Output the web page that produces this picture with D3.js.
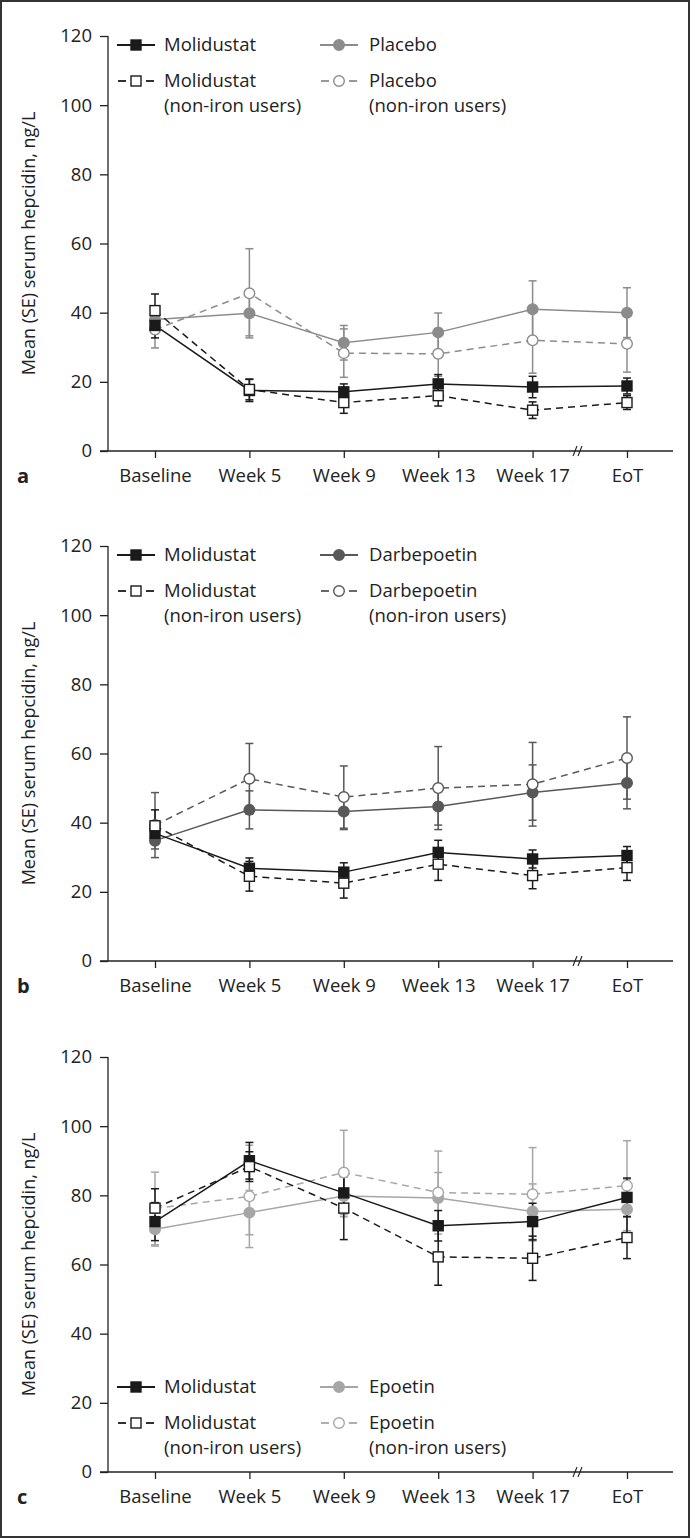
<!doctype html>
<html lang="en">
  <head>
    <meta charset="utf-8">
    <title>Serum hepcidin by visit</title>
    <style>
      * { margin: 0; padding: 0; }
      body { background: #fff; width: 691px; height: 1539px; overflow: hidden; }
      svg text { font-family: "Open Sans", sans-serif; fill: #222; }
    </style>
    <script src="https://cdn.jsdelivr.net/npm/d3@7"></script>
  </head>
  <body>
    <svg id="chart" width="691" height="1539"></svg>

    <script>
      // visits on the x axis
      const categories = ["Baseline", "Week 5", "Week 9", "Week 13", "Week 17", "EoT"];
      const yTicks = [0, 20, 40, 60, 80, 100, 120];

      // panel a : molidustat vs placebo
      const molA      = [36.3, 17.5, 17.1, 19.4, 18.5, 18.8];
      const molA_se   = [3.6, 3.2, 2.3, 2.7, 3.1, 2.3];
      const molNiA    = [40.6, 17.8, 14.0, 16.0, 11.8, 14.0];
      const molNiA_se = [4.8, 3.0, 3.1, 3.0, 2.4, 2.0];
      const placA     = [38.0, 39.8, 31.3, 34.3, 41.0, 40.0];
      const placA_se  = [4.0, 6.5, 5.0, 5.6, 8.2, 7.2];
      const placNiA   = [35.1, 45.6, 28.3, 28.1, 32.0, 31.0];
      const placNiA_se = [5.3, 12.9, 7.0, 6.5, 9.5, 8.2];

      // panel b : molidustat vs darbepoetin
      const molB      = [36.9, 26.8, 25.7, 31.4, 29.5, 30.5];
      const molB_se   = [3.0, 3.0, 2.7, 3.5, 2.6, 2.6];
      const molNiB    = [39.1, 24.5, 22.5, 28.0, 24.7, 27.0];
      const molNiB_se = [4.6, 4.3, 4.3, 4.7, 3.8, 3.7];
      const darbB     = [34.8, 43.7, 43.2, 44.7, 48.7, 51.5];
      const darbB_se  = [2.4, 5.5, 5.2, 5.4, 8.0, 7.5];
      const darbNiB   = [39.3, 52.7, 47.4, 50.0, 51.1, 58.7];
      const darbNiB_se = [9.4, 10.2, 9.0, 12.0, 12.1, 11.9];

      // panel c : molidustat vs epoetin
      const molC      = [72.4, 90.0, 80.7, 71.2, 72.4, 79.4];
      const molC_se   = [5.5, 5.3, 5.0, 4.4, 5.3, 5.6];
      const molNiC    = [76.3, 88.3, 76.3, 62.2, 61.8, 67.8];
      const molNiC_se = [5.6, 4.3, 9.1, 8.2, 6.4, 6.1];
      const epoC      = [70.2, 75.0, 79.8, 79.2, 75.3, 76.0];
      const epoC_se   = [4.9, 6.4, 6.0, 7.4, 8.0, 8.6];
      const epoNiC    = [76.2, 79.7, 86.6, 80.8, 80.3, 82.8];
      const epoNiC_se = [10.5, 14.8, 12.2, 12.0, 13.5, 13.0];

      const BLACK = "#1a1a1a";
      const FS = 18.5;

      const panels = [
        { letter: "a", top: 36, comp: "Placebo", color: "#8c8c8c", legendTop: true,
          series: [[placA, placA_se], [placNiA, placNiA_se], [molA, molA_se], [molNiA, molNiA_se]] },
        { letter: "b", top: 546, comp: "Darbepoetin", color: "#585858", legendTop: true,
          series: [[darbB, darbB_se], [darbNiB, darbNiB_se], [molB, molB_se], [molNiB, molNiB_se]] },
        { letter: "c", top: 1057, comp: "Epoetin", color: "#a6a6a6", legendTop: false,
          series: [[epoC, epoC_se], [epoNiC, epoNiC_se], [molC, molC_se], [molNiC, molNiC_se]] }
      ];

      const svg = d3.select("#chart");

      // figure frame
      svg.append("rect")
        .attr("x", 1).attr("y", 1).attr("width", 688).attr("height", 1536)
        .attr("fill", "none").attr("stroke", "#333").attr("stroke-width", 2);

      const x = d3.scalePoint().domain(categories).range([155, 627]);

      function marker(g, kind, cx, cy, color) {
        if (kind === "square") {
          g.append("rect")
            .attr("x", cx - 5).attr("y", cy - 5).attr("width", 10).attr("height", 10)
            .attr("fill", color).attr("stroke", BLACK).attr("stroke-width", 1.4);
        } else {
          g.append("circle")
            .attr("cx", cx).attr("cy", cy).attr("r", 5.3)
            .attr("fill", color === "open" ? "#fff" : color)
            .attr("stroke", color === "open" ? g.attr("data-c") : color)
            .attr("stroke-width", 1.4);
        }
      }

      function drawPanel(p) {
        const g = svg.append("g");
        const y = d3.scaleLinear().domain([0, 120]).range([p.top + 415, p.top]);
        const y0 = y(0);

        // y axis
        g.append("g")
          .attr("transform", "translate(108,0)")
          .call(d3.axisLeft(y).tickValues(yTicks).tickSize(8).tickPadding(8))
          .call(a => a.select(".domain").remove())
          .call(a => a.selectAll("line").attr("stroke", "#222").attr("stroke-width", 1.3))
          .call(a => a.selectAll("text").attr("font-size", FS).attr("fill", "#222")
            .attr("font-family", "Open Sans, sans-serif"));
        g.append("line")
          .attr("x1", 108).attr("x2", 108).attr("y1", p.top).attr("y2", y0)
          .attr("stroke", "#222").attr("stroke-width", 1.3);

        // x axis
        g.append("g")
          .attr("transform", `translate(0,${y0})`)
          .call(d3.axisBottom(x).tickSize(7).tickPadding(11))
          .call(a => a.select(".domain").remove())
          .call(a => a.selectAll("line").attr("stroke", "#222").attr("stroke-width", 1.3))
          .call(a => a.selectAll("text").attr("font-size", FS).attr("fill", "#222")
            .attr("font-family", "Open Sans, sans-serif"));
        g.append("line")
          .attr("x1", 100).attr("x2", 673).attr("y1", y0).attr("y2", y0)
          .attr("stroke", "#222").attr("stroke-width", 1.3);

        // axis break between Week 17 and EoT
        [575, 580].forEach(bx => {
          g.append("line")
            .attr("x1", bx - 2).attr("x2", bx + 2).attr("y1", y0 + 5).attr("y2", y0 - 5)
            .attr("stroke", "#222").attr("stroke-width", 1.1);
        });

        // y title and panel letter
        g.append("text")
          .attr("transform", `translate(35,${(p.top + y0) / 2}) rotate(-90)`)
          .attr("text-anchor", "middle")
          .attr("font-size", 18)
          .text("Mean (SE) serum hepcidin, ng/L");
        g.append("text")
          .attr("x", 17).attr("y", y0 + 32)
          .attr("font-size", 20).attr("font-weight", "bold")
          .text(p.letter);

        const styles = [
          { color: p.color, dash: null, kind: "circle", fill: p.color },
          { color: p.color, dash: "7,5", kind: "circle", fill: "open" },
          { color: BLACK, dash: null, kind: "square", fill: BLACK },
          { color: BLACK, dash: "7,5", kind: "square", fill: "#fff" }
        ];

        const line = d3.line().x((d, i) => x(categories[i])).y(d => y(d));

        // lines
        p.series.forEach(([vals], k) => {
          g.append("path")
            .attr("d", line(vals))
            .attr("fill", "none")
            .attr("stroke", styles[k].color)
            .attr("stroke-width", 1.5)
            .attr("stroke-dasharray", styles[k].dash);
        });

        // error bars
        p.series.forEach(([vals, se], k) => {
          vals.forEach((v, i) => {
            const cx = x(categories[i]);
            const eb = g.append("g").attr("stroke", styles[k].color).attr("stroke-width", 1.5);
            eb.append("line").attr("x1", cx).attr("x2", cx).attr("y1", y(v - se[i])).attr("y2", y(v + se[i]));
            [v - se[i], v + se[i]].forEach(e => {
              eb.append("line").attr("x1", cx - 4).attr("x2", cx + 4).attr("y1", y(e)).attr("y2", y(e));
            });
          });
        });

        // markers
        p.series.forEach(([vals], k) => {
          const mg = g.append("g").attr("data-c", styles[k].color);
          vals.forEach((v, i) => marker(mg, styles[k].kind, x(categories[i]), y(v), styles[k].fill));
        });

        // legend
        const ly = p.legendTop ? p.top + 9 : p.top + 330;
        const leg = g.append("g");
        const cols = [
          { lx: 117, tx: 164, name: "Molidustat", s: [styles[2], styles[3]] },
          { lx: 320, tx: 369, name: p.comp, s: [styles[0], styles[1]] }
        ];
        cols.forEach(c => {
          // solid entry
          leg.append("line")
            .attr("x1", c.lx).attr("x2", c.lx + 38).attr("y1", ly).attr("y2", ly)
            .attr("stroke", c.s[0].color).attr("stroke-width", 1.8);
          const m1 = leg.append("g").attr("data-c", c.s[0].color);
          marker(m1, c.s[0].kind, c.lx + 19, ly, c.s[0].fill);
          // dashed entry
          const ly2 = ly + 36;
          [[c.lx + 1, c.lx + 9], [c.lx + 29, c.lx + 37]].forEach(([a, b]) => {
            leg.append("line")
              .attr("x1", a).attr("x2", b).attr("y1", ly2).attr("y2", ly2)
              .attr("stroke", c.s[1].color).attr("stroke-width", 1.8);
          });
          const m2 = leg.append("g").attr("data-c", c.s[1].color);
          marker(m2, c.s[1].kind, c.lx + 19, ly2, c.s[1].fill);

          leg.append("text").attr("x", c.tx).attr("y", ly).attr("dy", "0.35em")
            .attr("font-size", FS).text(c.name);
          leg.append("text").attr("x", c.tx).attr("y", ly2).attr("dy", "0.35em")
            .attr("font-size", FS).text(c.name);
          leg.append("text").attr("x", c.tx).attr("y", ly2 + 25).attr("dy", "0.35em")
            .attr("font-size", FS).text("(non-iron users)");
        });
      }

      panels.forEach(drawPanel);
    </script>
  </body>
</html>
